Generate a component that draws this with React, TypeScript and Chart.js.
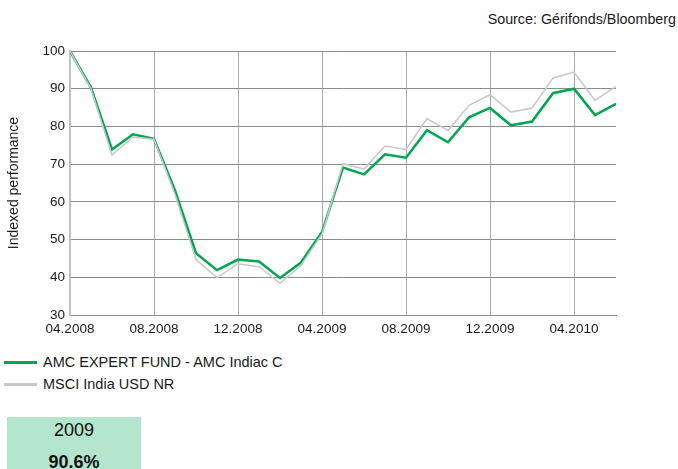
import React, { useEffect, useRef } from "react";
import { Chart, registerables } from "chart.js";

Chart.register(...registerables);

const months = [
  "04.2008", "05.2008", "06.2008", "07.2008", "08.2008", "09.2008", "10.2008", "11.2008", "12.2008",
  "01.2009", "02.2009", "03.2009", "04.2009", "05.2009", "06.2009", "07.2009", "08.2009", "09.2009",
  "10.2009", "11.2009", "12.2009", "01.2010", "02.2010", "03.2010", "04.2010", "05.2010", "06.2010",
];

const fundValues = [
  100, 90.3, 73.9, 77.9, 76.7, 63, 46.4, 41.9, 44.7, 44.2, 39.8, 43.9, 52.0,
  69.1, 67.3, 72.6, 71.7, 79.0, 75.8, 82.4, 84.9, 80.3, 81.3, 88.8, 90.0, 83.0, 86.0,
];

const indexValues = [
  100, 90, 72.4, 77.2, 76.6, 62, 44.7, 39.9, 43.6, 42.8, 38.4, 43.2, 51.5,
  70.1, 68.7, 74.8, 73.9, 82.1, 78.9, 85.6, 88.4, 83.8, 84.9, 92.8, 94.4, 86.9, 90.6,
];

const fundLabel = "AMC EXPERT FUND - AMC Indiac C";
const indexLabel = "MSCI India USD NR";
const yearLabel = "2009";
const yearPerf = "90.6%";
const sourceText = "Source: Gérifonds/Bloomberg";

const GREEN = "#00a651";
const GREY = "#c8c8c8";
const FONT = "'Liberation Sans', Arial, sans-serif";

export default function App() {
  const ref = useRef<HTMLCanvasElement | null>(null);

  useEffect(() => {
    document.body.style.margin = "0";
    const ctx = ref.current!;
    const chart = new Chart(ctx, {
      type: "line",
      data: {
        datasets: [
          {
            label: indexLabel,
            data: indexValues.map((v, i) => ({ x: i, y: v })),
            borderColor: GREY,
            borderWidth: 1.5,
            pointRadius: 0,
            tension: 0,
          },
          {
            label: fundLabel,
            data: fundValues.map((v, i) => ({ x: i, y: v })),
            borderColor: GREEN,
            borderWidth: 2.5,
            pointRadius: 0,
            tension: 0,
          },
        ],
      },
      options: {
        animation: false,
        responsive: false,
        maintainAspectRatio: false,
        layout: { padding: { top: 51, right: 62, left: 0, bottom: 0 } },
        plugins: { legend: { display: false }, tooltip: { enabled: false } },
        scales: {
          x: {
            type: "linear",
            min: 0,
            max: months.length - 1,
            afterFit: (s: any) => { s.height = 30; },
            afterBuildTicks: (s: any) => {
              s.ticks = s.ticks.filter((t: any) => t.value % 4 === 0);
            },
            ticks: {
              stepSize: 4,
              autoSkip: false,
              maxRotation: 0,
              padding: 6,
              color: "#1a1a1a",
              font: { family: FONT, size: 13.5 },
              callback: (v: any) => months[v as number] ?? "",
            },
            grid: { color: "#a8a8a8", lineWidth: 1, drawTicks: false },
            border: { color: "#8c8c8c", width: 1 },
          },
          y: {
            min: 30,
            max: 100,
            afterFit: (s: any) => { s.width = 70; },
            ticks: {
              stepSize: 10,
              padding: 5,
              color: "#1a1a1a",
              font: { family: FONT, size: 13.5 },
            },
            grid: { color: "#8c8c8c", lineWidth: 1, drawTicks: false },
            border: { color: "#c0c0c0", width: 2 },
            title: {
              display: true,
              text: "Indexed performance",
              color: "#1a1a1a",
              font: { family: FONT, size: 14 },
              padding: { top: 6, bottom: 0 },
            },
          },
        },
      },
    });
    return () => chart.destroy();
  }, []);

  return (
    <div style={{ position: "relative", width: 678, height: 469, overflow: "hidden", fontFamily: FONT, background: "#fff" }}>
      <div style={{ position: "absolute", right: 2, top: 11, fontSize: 14.3, color: "#1a1a1a" }}>{sourceText}</div>
      <canvas ref={ref} width={678} height={345} style={{ position: "absolute", left: 0, top: 0, width: 678, height: 345 }} />
      <div style={{ position: "absolute", left: 4, top: 354, fontSize: 14.5, color: "#1a1a1a", display: "flex", alignItems: "center" }}>
        <span style={{ display: "inline-block", width: 33, height: 3, background: GREEN, marginRight: 6 }} />
        {fundLabel}
      </div>
      <div style={{ position: "absolute", left: 4, top: 376, fontSize: 14.5, color: "#1a1a1a", display: "flex", alignItems: "center" }}>
        <span style={{ display: "inline-block", width: 33, height: 3, background: GREY, marginRight: 6 }} />
        {indexLabel}
      </div>
      <div style={{ position: "absolute", left: 7, top: 417, width: 134, height: 60, background: "#b3e6cc", textAlign: "center", color: "#111" }}>
        <div style={{ fontSize: 18, lineHeight: "22px", marginTop: 2 }}>{yearLabel}</div>
        <div style={{ fontSize: 18, lineHeight: "22px", fontWeight: "bold", marginTop: 10 }}>{yearPerf}</div>
      </div>
    </div>
  );
}
